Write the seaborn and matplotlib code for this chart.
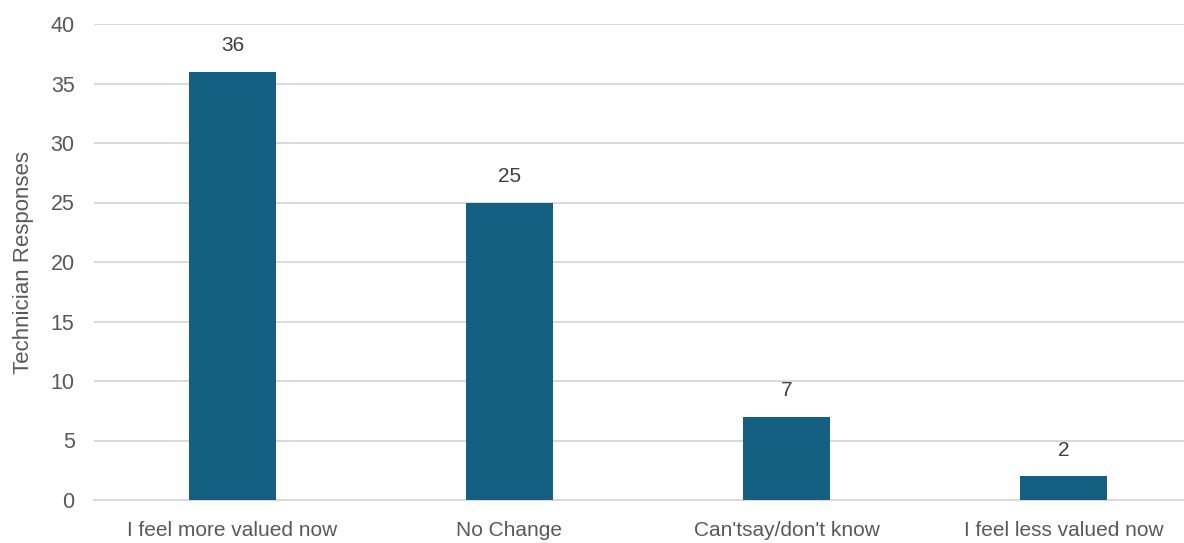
import matplotlib
matplotlib.use("Agg")
import matplotlib.pyplot as plt
import seaborn as sns
import pandas as pd

categories = ["I feel more valued now", "No Change", "Can'tsay/don't know", "I feel less valued now"]
responses = [36, 25, 7, 2]
y_ticks = [0, 5, 10, 15, 20, 25, 30, 35, 40]

df = pd.DataFrame({"category": categories, "responses": responses})

sns.set_theme(style="white")
plt.rcParams["font.family"] = ["Liberation Sans", "DejaVu Sans"]

fig = plt.figure(figsize=(11.84, 5.43), dpi=100)
ax = fig.add_axes([94 / 1184, 43 / 543, (1202 - 94) / 1184, 476 / 543])

bar_color = "#156082"
sns.barplot(data=df, x="category", y="responses", color=bar_color, width=0.314,
            saturation=1, ax=ax, zorder=3, edgecolor="none")

ax.set_ylim(0, 40)
ax.set_xlim(-0.5, len(categories) - 0.5)
ax.set_yticks(y_ticks)
ax.yaxis.grid(True, color="#D9D9D9", linewidth=1.4, zorder=0)
ax.set_axisbelow(True)
for side in ["left", "right", "top"]:
    ax.spines[side].set_visible(False)
ax.spines["bottom"].set_color("#D9D9D9")
ax.spines["bottom"].set_linewidth(1.4)

ax.tick_params(axis="both", length=0, labelcolor="#595959")
ax.tick_params(axis="x", pad=15, labelsize=15)
ax.tick_params(axis="y", pad=14, labelsize=15.5)
ax.set_xlabel("")
ax.set_ylabel("Technician Responses", fontsize=16, color="#595959", labelpad=12)

for i, v in enumerate(responses):
    ax.annotate(str(v), xy=(i, v), xytext=(0, 12), textcoords="offset points",
                ha="center", va="bottom", fontsize=15, color="#404040")

fig.savefig("out.png", dpi=100)
